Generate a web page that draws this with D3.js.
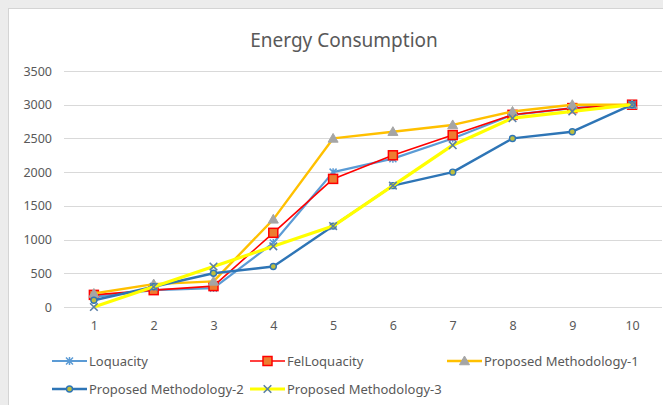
<!DOCTYPE html>
<html>
<head>
<meta charset="utf-8">
<script src="https://cdn.jsdelivr.net/npm/d3@7"></script>
<style>
  html, body { margin: 0; padding: 0; background: #ececec; }
  svg { display: block; }
  text { font-family: "Noto Sans", "Open Sans", sans-serif; fill: #595959; }
</style>
</head>
<body>
<svg id="chart" width="663" height="405"></svg>
<script>
// Categories on the x axis
const categories = ["1", "2", "3", "4", "5", "6", "7", "8", "9", "10"];
const yTicks = [0, 500, 1000, 1500, 2000, 2500, 3000, 3500];

// Energy consumption per series
const loquacity    = [150, 250, 280, 950, 2000, 2200, 2500, 2850, 2950, 3000];
const felLoquacity = [180, 250, 310, 1100, 1900, 2250, 2550, 2850, 2950, 3000];
const proposed1    = [200, 340, 380, 1300, 2500, 2600, 2700, 2900, 3000, 3000];
const proposed2    = [100, 300, 500, 600, 1200, 1800, 2000, 2500, 2600, 3000];
const proposed3    = [0, 300, 600, 900, 1200, 1800, 2400, 2800, 2900, 3000];

const seriesNames = ["Loquacity", "FelLoquacity", "Proposed Methodology-1",
                     "Proposed Methodology-2", "Proposed Methodology-3"];

const series = [
  { name: seriesNames[0], values: loquacity,    line: "#5b9bd5", width: 2.2, marker: "asterisk", mFill: "none",    mStroke: "#5b9bd5" },
  { name: seriesNames[1], values: felLoquacity, line: "#ff0000", width: 1.6, marker: "square",   mFill: "#ed7d31", mStroke: "#ff0000" },
  { name: seriesNames[2], values: proposed1,    line: "#ffc000", width: 2.4, marker: "triangle", mFill: "#a5a5a5", mStroke: "#a5a5a5" },
  { name: seriesNames[3], values: proposed2,    line: "#2e75b6", width: 2.4, marker: "circle",   mFill: "#bfbf3f", mStroke: "#2e75b6" },
  { name: seriesNames[4], values: proposed3,    line: "#ffff00", width: 3.2, marker: "cross",    mFill: "none",    mStroke: "#5b7fa6" }
];

const svg = d3.select("#chart");

// Chart area
svg.append("rect")
  .attr("x", 8.5).attr("y", 8.5)
  .attr("width", 680).attr("height", 420)
  .attr("fill", "#ffffff")
  .attr("stroke", "#d4d4d4");

svg.append("text")
  .attr("x", 344).attr("y", 47)
  .attr("text-anchor", "middle")
  .style("font-size", "19px")
  .text("Energy Consumption");

const x = d3.scalePoint().domain(categories).range([64, 662]).padding(0.5);
const y = d3.scaleLinear().domain([0, 3500]).range([307, 71]);

// Horizontal gridlines
svg.append("g")
  .selectAll("line")
  .data(yTicks)
  .join("line")
  .attr("x1", 64).attr("x2", 662)
  .attr("y1", d => Math.round(y(d)) + 0.5)
  .attr("y2", d => Math.round(y(d)) + 0.5)
  .attr("stroke", "#d9d9d9")
  .attr("stroke-width", 1);

// Y axis labels
const yAxis = svg.append("g")
  .attr("transform", "translate(56,0)")
  .call(d3.axisLeft(y).tickValues(yTicks).tickFormat(d3.format("d")).tickSize(0).tickPadding(4));
yAxis.select(".domain").remove();
yAxis.selectAll("text")
  .style("font-size", "12.5px")
  .style("font-family", "'Noto Sans', sans-serif")
  .attr("fill", "#595959");

// X axis labels
const xAxis = svg.append("g")
  .attr("transform", "translate(0,321)")
  .call(d3.axisBottom(x).tickSize(0).tickPadding(0));
xAxis.select(".domain").remove();
xAxis.selectAll("text")
  .style("font-size", "12.5px")
  .style("font-family", "'Noto Sans', sans-serif")
  .attr("fill", "#595959");

// Marker drawing
function drawMarker(g, type, cx, cy, fill, stroke) {
  if (type === "asterisk") {
    const s = 3.5;
    g.append("path")
      .attr("d", `M${cx - s},${cy - s}L${cx + s},${cy + s}M${cx - s},${cy + s}L${cx + s},${cy - s}M${cx},${cy - s - 0.5}L${cx},${cy + s + 0.5}`)
      .attr("stroke", stroke).attr("stroke-width", 1.5).attr("fill", "none");
  } else if (type === "square") {
    const s = 4.5;
    g.append("rect")
      .attr("x", cx - s).attr("y", cy - s)
      .attr("width", 2 * s).attr("height", 2 * s)
      .attr("fill", fill).attr("stroke", stroke).attr("stroke-width", 1.5);
  } else if (type === "triangle") {
    const s = 5;
    g.append("path")
      .attr("d", `M${cx},${cy - s}L${cx + s},${cy + s * 0.75}L${cx - s},${cy + s * 0.75}Z`)
      .attr("fill", fill).attr("stroke", stroke).attr("stroke-width", 1);
  } else if (type === "circle") {
    g.append("circle")
      .attr("cx", cx).attr("cy", cy).attr("r", 3)
      .attr("fill", fill).attr("stroke", stroke).attr("stroke-width", 1.4);
  } else if (type === "cross") {
    const s = 3.8;
    g.append("path")
      .attr("d", `M${cx - s},${cy - s}L${cx + s},${cy + s}M${cx - s},${cy + s}L${cx + s},${cy - s}`)
      .attr("stroke", stroke).attr("stroke-width", 1.6).attr("fill", "none");
  }
}

const lineGen = d3.line()
  .x((d, i) => x(categories[i]))
  .y(d => y(d));

series.forEach(s => {
  const g = svg.append("g");
  g.append("path")
    .datum(s.values)
    .attr("d", lineGen)
    .attr("fill", "none")
    .attr("stroke", s.line)
    .attr("stroke-width", s.width)
    .attr("stroke-linejoin", "round");
  s.values.forEach((v, i) => drawMarker(g, s.marker, x(categories[i]), y(v), s.mFill, s.mStroke));
});

// Legend
const legendPos = [
  [52, 361], [250, 361], [447, 361],
  [52, 389], [250, 389]
];
series.forEach((s, i) => {
  const [lx, ly] = legendPos[i];
  const g = svg.append("g");
  g.append("line")
    .attr("x1", lx).attr("x2", lx + 35)
    .attr("y1", ly).attr("y2", ly)
    .attr("stroke", s.line).attr("stroke-width", s.width);
  drawMarker(g, s.marker, lx + 17.5, ly, s.mFill, s.mStroke);
  g.append("text")
    .attr("x", lx + 37).attr("y", ly)
    .attr("dy", "0.35em")
    .style("font-size", "13px")
    .text(s.name);
});
</script>
</body>
</html>
